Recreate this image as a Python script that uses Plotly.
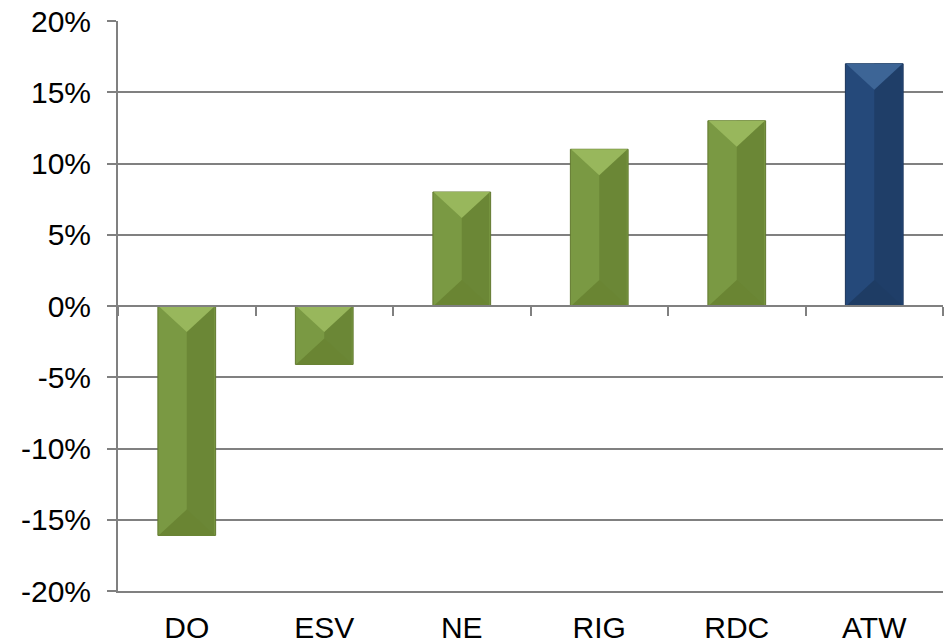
import plotly.graph_objects as go

categories = ["DO", "ESV", "NE", "RIG", "RDC", "ATW"]
values = [-16.1, -4.1, 8.0, 11.0, 13.0, 17.0]
y_ticks = [-20, -15, -10, -5, 0, 5, 10, 15, 20]
y_tick_labels = [f"{v}%" for v in y_ticks]

# colour per bar: left face, right face, upper bevel, lower bevel, edge
GREEN = dict(face="#7A9943", right="#6B8736", upper="#98B75C", lower="#6A8533", edge="#62792F")
BLUE = dict(face="#25497A", right="#1F3E68", upper="#3D6596", lower="#1E3C64", edge="#1A3459")
bar_styles = [GREEN, GREEN, GREEN, GREEN, GREEN, BLUE]

GRID = "#808080"
FONT = "Liberation Sans, Arial, sans-serif"
W, H = 948, 643
ML, MR, MT, MB = 118, 5, 21, 52
Y_RANGE = [-20, 20]
BAR_W = 0.42

x_idx = list(range(len(categories)))
boundaries = [i - 0.5 for i in range(len(categories) + 1)]

fig = go.Figure()

# main bars (left face colour)
fig.add_trace(go.Bar(
    x=x_idx, y=values, width=BAR_W,
    marker=dict(color=[s["face"] for s in bar_styles],
                line=dict(color=[s["edge"] for s in bar_styles], width=1)),
    customdata=categories, hovertemplate="%{customdata}: %{y}%<extra></extra>",
    showlegend=False,
))
# right (shaded) half of each bar
fig.add_trace(go.Bar(
    x=x_idx, y=values, width=BAR_W / 2 - 0.01, offset=0.0,
    marker=dict(color=[s["right"] for s in bar_styles], line=dict(width=0)),
    hoverinfo="skip", showlegend=False,
))

# bevel triangles at the upper and lower ends of each bar (45 degree chamfer)
px_per_x = (W - ML - MR) / len(categories)
px_per_y = (H - MT - MB) / (Y_RANGE[1] - Y_RANGE[0])
half = BAR_W / 2 - 0.005
depth_full = half * px_per_x / px_per_y * 0.92
for i, v in enumerate(values):
    hi, lo = max(0.0, v), min(0.0, v)
    d = min(depth_full, (hi - lo) / 2)
    st = bar_styles[i]
    fig.add_trace(go.Scatter(
        x=[i - half, i + half, i, i - half], y=[hi, hi, hi - d, hi],
        mode="lines", fill="toself", fillcolor=st["upper"], line=dict(width=0),
        hoverinfo="skip", showlegend=False,
    ))
    fig.add_trace(go.Scatter(
        x=[i - half, i + half, i, i - half], y=[lo, lo, lo + d, lo],
        mode="lines", fill="toself", fillcolor=st["lower"], line=dict(width=0),
        hoverinfo="skip", showlegend=False,
    ))

# invisible trace carrying the zero-line axis with boundary ticks
fig.add_trace(go.Scatter(
    x=x_idx, y=values, xaxis="x2", mode="markers",
    marker=dict(opacity=0), hoverinfo="skip", showlegend=False,
))

fig.update_layout(
    width=W, height=H,
    margin=dict(l=ML, r=MR, t=MT, b=MB),
    paper_bgcolor="white", plot_bgcolor="white",
    barmode="overlay",
    font=dict(family=FONT, size=30, color="#000000"),
    xaxis=dict(
        range=[-0.5, len(categories) - 0.5], automargin=False,
        tickvals=x_idx, ticktext=categories,
        showgrid=False, zeroline=False,
        showline=True, linecolor=GRID, linewidth=2,
        ticks="", ticklabelstandoff=9,
        tickfont=dict(family=FONT, size=30, color="#000000"),
    ),
    xaxis2=dict(
        range=[-0.5, len(categories) - 0.5], automargin=False,
        overlaying="x", anchor="free", position=0.5, side="bottom",
        tickvals=boundaries,
        showgrid=False, zeroline=False,
        showline=True, linecolor=GRID, linewidth=2,
        ticks="outside", ticklen=9, tickwidth=2, tickcolor=GRID,
        showticklabels=False,
    ),
    yaxis=dict(
        range=Y_RANGE, tickvals=y_ticks, ticktext=y_tick_labels, automargin=False,
        showgrid=True, gridcolor=GRID, gridwidth=2,
        zeroline=False,
        showline=True, linecolor=GRID, linewidth=2,
        ticks="outside", ticklen=9, tickwidth=2, tickcolor=GRID,
        ticklabelstandoff=10,
        tickfont=dict(family=FONT, size=30, color="#000000"),
    ),
)

fig.write_html("out.html")
